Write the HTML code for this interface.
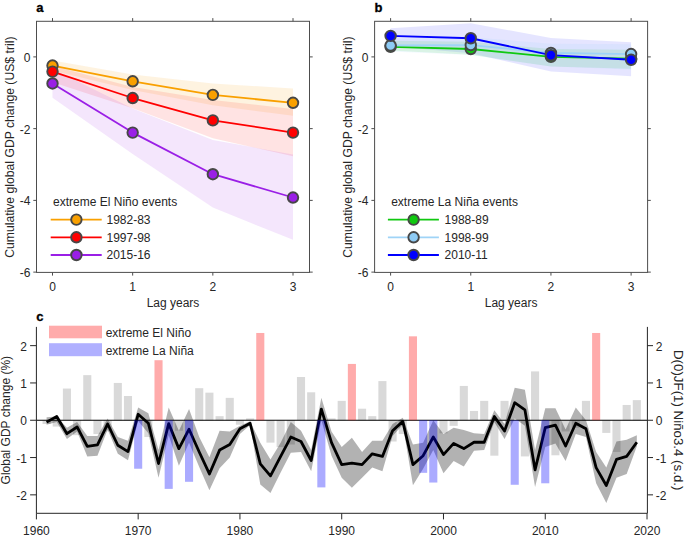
<!DOCTYPE html><html><head><meta charset="utf-8"><style>html,body{margin:0;padding:0;background:#fff;}svg{display:block;}text{font-family:"Liberation Sans", sans-serif;font-size:12px;fill:#262626;}</style></head><body>
<svg width="685" height="541" viewBox="0 0 685 541">
<rect width="685" height="541" fill="#fff"/>
<polygon points="52.5,60.49 132.67,74.48 212.84,83.44 293.01,88.47 293.01,115.73 212.84,105.32 132.67,89.9 52.5,70.53" fill="#f9a000" fill-opacity="0.12" stroke="none"/>
<polygon points="52.5,65.87 132.67,87.03 212.84,99.94 293.01,108.91 293.01,156.26 212.84,138.32 132.67,108.19 52.5,82.37" fill="#ff0000" fill-opacity="0.11" stroke="none"/>
<polygon points="52.5,69.1 132.67,108.55 212.84,140.12 293.01,154.47 293.01,239.84 212.84,207.55 132.67,154.11 52.5,97.79" fill="#9a1fe6" fill-opacity="0.11" stroke="none"/>
<polyline points="52.5,65.51 132.67,81.29 212.84,94.92 293.01,102.81" fill="none" stroke="#f9a000" stroke-width="1.8" stroke-linejoin="round"/>
<polyline points="52.5,71.61 132.67,98.01 212.84,120.39 293.01,132.59" fill="none" stroke="#ff0000" stroke-width="1.8" stroke-linejoin="round"/>
<polyline points="52.5,83.44 132.67,132.59 212.84,174.19 293.01,197.51" fill="none" stroke="#9a1fe6" stroke-width="1.8" stroke-linejoin="round"/>
<circle cx="52.5" cy="65.51" r="5.25" fill="#f9a000" stroke="#474747" stroke-width="1.9"/>
<circle cx="132.67" cy="81.29" r="5.25" fill="#f9a000" stroke="#474747" stroke-width="1.9"/>
<circle cx="212.84" cy="94.92" r="5.25" fill="#f9a000" stroke="#474747" stroke-width="1.9"/>
<circle cx="293.01" cy="102.81" r="5.25" fill="#f9a000" stroke="#474747" stroke-width="1.9"/>
<circle cx="52.5" cy="71.61" r="5.25" fill="#ff0000" stroke="#474747" stroke-width="1.9"/>
<circle cx="132.67" cy="98.01" r="5.25" fill="#ff0000" stroke="#474747" stroke-width="1.9"/>
<circle cx="212.84" cy="120.39" r="5.25" fill="#ff0000" stroke="#474747" stroke-width="1.9"/>
<circle cx="293.01" cy="132.59" r="5.25" fill="#ff0000" stroke="#474747" stroke-width="1.9"/>
<circle cx="52.5" cy="83.44" r="5.25" fill="#9a1fe6" stroke="#474747" stroke-width="1.9"/>
<circle cx="132.67" cy="132.59" r="5.25" fill="#9a1fe6" stroke="#474747" stroke-width="1.9"/>
<circle cx="212.84" cy="174.19" r="5.25" fill="#9a1fe6" stroke="#474747" stroke-width="1.9"/>
<circle cx="293.01" cy="197.51" r="5.25" fill="#9a1fe6" stroke="#474747" stroke-width="1.9"/>
<rect x="36.5" y="21.3" width="273" height="251.1" fill="none" stroke="#4d4d4d" stroke-width="1"/>
<path d="M52.5,272.4v3.2M52.5,21.3v-3.2M132.67,272.4v3.2M132.67,21.3v-3.2M212.84,272.4v3.2M212.84,21.3v-3.2M293.01,272.4v3.2M293.01,21.3v-3.2M36.5,56.9h-3.2M309.5,56.9h3.2M36.5,128.64h-3.2M309.5,128.64h3.2M36.5,200.38h-3.2M309.5,200.38h3.2M36.5,272.12h-3.2M309.5,272.12h3.2" stroke="#4d4d4d" stroke-width="1" fill="none"/>
<text x="52.5" y="291.2" text-anchor="middle">0</text>
<text x="132.67" y="291.2" text-anchor="middle">1</text>
<text x="212.84" y="291.2" text-anchor="middle">2</text>
<text x="293.01" y="291.2" text-anchor="middle">3</text>
<text x="30.4" y="61.9" text-anchor="end">0</text>
<text x="30.4" y="133.64" text-anchor="end">-2</text>
<text x="30.4" y="205.38" text-anchor="end">-4</text>
<text x="30.4" y="277.12" text-anchor="end">-6</text>
<text x="173" y="307.2" text-anchor="middle">Lag years</text>
<text transform="translate(13.6,147.2) rotate(-90)" text-anchor="middle" style="font-size:12.2px">Cumulative global GDP change (US$ tril)</text>
<text x="36.3" y="11.8" style="font-weight:bold;font-size:13px;fill:#000;stroke:#000;stroke-width:0.3px">a</text>
<text x="53.1" y="205.8">extreme El Niño events</text>
<line x1="50.7" x2="101.7" y1="219.6" y2="219.6" stroke="#f9a000" stroke-width="1.8"/>
<circle cx="76.4" cy="219.6" r="5.25" fill="#f9a000" stroke="#474747" stroke-width="1.9"/>
<text x="106.5" y="223.9">1982-83</text>
<line x1="50.7" x2="101.7" y1="237.3" y2="237.3" stroke="#ff0000" stroke-width="1.8"/>
<circle cx="76.4" cy="237.3" r="5.25" fill="#ff0000" stroke="#474747" stroke-width="1.9"/>
<text x="106.5" y="241.6">1997-98</text>
<line x1="50.7" x2="101.7" y1="255" y2="255" stroke="#9a1fe6" stroke-width="1.8"/>
<circle cx="76.4" cy="255" r="5.25" fill="#9a1fe6" stroke="#474747" stroke-width="1.9"/>
<text x="106.5" y="259.3">2015-16</text>
<polygon points="390.6,28.2 470.77,23.18 550.94,37.89 631.11,42.19 631.11,76.27 550.94,71.61 470.77,53.31 390.6,46.14" fill="#0000ff" fill-opacity="0.1" stroke="none"/>
<polygon points="390.6,38.97 470.77,37.17 550.94,43.63 631.11,44.35 631.11,69.45 550.94,66.58 470.77,55.11 390.6,51.52" fill="#8ecbf5" fill-opacity="0.12" stroke="none"/>
<polygon points="390.6,40.76 470.77,41.83 550.94,49.01 631.11,49.73 631.11,68.74 550.94,66.58 470.77,54.75 390.6,50.44" fill="#10c810" fill-opacity="0.1" stroke="none"/>
<polyline points="390.6,46.86 470.77,49.01 550.94,56.9 631.11,58.69" fill="none" stroke="#10c810" stroke-width="1.8" stroke-linejoin="round"/>
<polyline points="390.6,45.42 470.77,45.06 550.94,52.95 631.11,54.03" fill="none" stroke="#9fd4f7" stroke-width="1.8" stroke-linejoin="round"/>
<polyline points="390.6,35.92 470.77,38.25 550.94,55.11 631.11,59.77" fill="none" stroke="#0000ff" stroke-width="1.8" stroke-linejoin="round"/>
<circle cx="390.6" cy="46.86" r="5.25" fill="#10c810" stroke="#474747" stroke-width="1.9"/>
<circle cx="470.77" cy="49.01" r="5.25" fill="#10c810" stroke="#474747" stroke-width="1.9"/>
<circle cx="550.94" cy="56.9" r="5.25" fill="#10c810" stroke="#474747" stroke-width="1.9"/>
<circle cx="631.11" cy="58.69" r="5.25" fill="#10c810" stroke="#474747" stroke-width="1.9"/>
<circle cx="390.6" cy="45.42" r="5.25" fill="#8ecbf5" stroke="#474747" stroke-width="1.9"/>
<circle cx="470.77" cy="45.06" r="5.25" fill="#8ecbf5" stroke="#474747" stroke-width="1.9"/>
<circle cx="550.94" cy="52.95" r="5.25" fill="#8ecbf5" stroke="#474747" stroke-width="1.9"/>
<circle cx="631.11" cy="54.03" r="5.25" fill="#8ecbf5" stroke="#474747" stroke-width="1.9"/>
<circle cx="390.6" cy="35.92" r="5.25" fill="#0000ff" stroke="#474747" stroke-width="1.9"/>
<circle cx="470.77" cy="38.25" r="5.25" fill="#0000ff" stroke="#474747" stroke-width="1.9"/>
<circle cx="550.94" cy="55.11" r="5.25" fill="#0000ff" stroke="#474747" stroke-width="1.9"/>
<circle cx="631.11" cy="59.77" r="5.25" fill="#0000ff" stroke="#474747" stroke-width="1.9"/>
<rect x="374.6" y="21.3" width="273" height="251.1" fill="none" stroke="#4d4d4d" stroke-width="1"/>
<path d="M390.6,272.4v3.2M390.6,21.3v-3.2M470.77,272.4v3.2M470.77,21.3v-3.2M550.94,272.4v3.2M550.94,21.3v-3.2M631.11,272.4v3.2M631.11,21.3v-3.2M374.6,56.9h-3.2M647.6,56.9h3.2M374.6,128.64h-3.2M647.6,128.64h3.2M374.6,200.38h-3.2M647.6,200.38h3.2M374.6,272.12h-3.2M647.6,272.12h3.2" stroke="#4d4d4d" stroke-width="1" fill="none"/>
<text x="390.6" y="291.2" text-anchor="middle">0</text>
<text x="470.77" y="291.2" text-anchor="middle">1</text>
<text x="550.94" y="291.2" text-anchor="middle">2</text>
<text x="631.11" y="291.2" text-anchor="middle">3</text>
<text x="368.5" y="61.9" text-anchor="end">0</text>
<text x="368.5" y="133.64" text-anchor="end">-2</text>
<text x="368.5" y="205.38" text-anchor="end">-4</text>
<text x="368.5" y="277.12" text-anchor="end">-6</text>
<text x="511.1" y="307.2" text-anchor="middle">Lag years</text>
<text transform="translate(351.7,147.2) rotate(-90)" text-anchor="middle" style="font-size:12.2px">Cumulative global GDP change (US$ tril)</text>
<text x="374.4" y="11.8" style="font-weight:bold;font-size:13px;fill:#000;stroke:#000;stroke-width:0.3px">b</text>
<text x="391.2" y="205.8">extreme La Niña events</text>
<line x1="387.9" x2="438.9" y1="219.6" y2="219.6" stroke="#10c810" stroke-width="1.8"/>
<circle cx="413.6" cy="219.6" r="5.25" fill="#10c810" stroke="#474747" stroke-width="1.9"/>
<text x="444.6" y="223.9">1988-89</text>
<line x1="387.9" x2="438.9" y1="237.3" y2="237.3" stroke="#9fd4f7" stroke-width="1.8"/>
<circle cx="413.6" cy="237.3" r="5.25" fill="#8ecbf5" stroke="#474747" stroke-width="1.9"/>
<text x="444.6" y="241.6">1998-99</text>
<line x1="387.9" x2="438.9" y1="255" y2="255" stroke="#0000ff" stroke-width="1.8"/>
<circle cx="413.6" cy="255" r="5.25" fill="#0000ff" stroke="#474747" stroke-width="1.9"/>
<text x="444.6" y="259.3">2010-11</text>
<polygon points="46.58,417.27 56.75,416.52 66.93,427.71 77.11,422.12 87.28,435.92 97.46,435.92 107.64,418.38 117.82,437.04 127.99,440.76 138.17,407.57 148.35,413.16 158.52,450.09 168.7,407.57 178.88,430.69 189.06,409.06 199.23,437.04 209.41,457.18 219.59,430.69 229.76,431.44 239.94,425.85 250.12,421.37 260.29,442.63 270.47,459.42 280.65,442.63 290.82,422.12 301,430.69 311.18,450.09 321.36,397.87 331.53,431.44 341.71,447.11 351.89,437.78 362.06,451.95 372.24,440.76 382.42,440.76 392.59,423.98 402.77,417.64 412.95,444.5 423.13,442.63 433.3,420.25 443.48,434.05 453.66,427.71 463.83,429.95 474.01,433.31 484.19,434.05 494.36,410.18 504.54,423.98 514.72,387.8 524.9,389.66 535.07,450.09 545.25,408.31 555.43,408.31 565.6,429.57 575.78,407.57 585.96,420.25 596.13,451.95 606.31,467.62 616.49,441.51 626.67,439.65 636.84,435.17 636.84,446.36 626.67,473.96 616.49,477.69 606.31,503.06 596.13,483.29 585.96,437.04 575.78,434.05 565.6,460.91 555.43,443.38 545.25,447.11 535.07,487.02 524.9,425.85 514.72,418.38 504.54,438.9 494.36,422.12 484.19,450.09 474.01,450.84 463.83,466.5 453.66,460.91 443.48,473.22 433.3,450.09 423.13,468.74 412.95,485.15 402.77,424.73 392.59,435.92 382.42,471.35 372.24,467.62 362.06,477.69 351.89,487.76 341.71,477.69 331.53,455.69 321.36,420.25 311.18,471.35 301,451.95 290.82,452.7 280.65,472.47 270.47,492.99 260.29,484.41 250.12,425.1 239.94,434.05 229.76,457.55 219.59,468.37 209.41,490.37 199.23,466.88 189.06,442.63 178.88,465.76 168.7,435.17 158.52,477.69 148.35,433.31 138.17,421 127.99,460.16 117.82,453.82 107.64,429.57 97.46,455.69 87.28,456.43 77.11,431.44 66.93,438.9 56.75,422.12 46.58,424.73" fill="#000" fill-opacity="0.3" stroke="none"/>
<polyline points="46.58,422.12 56.75,416.52 66.93,433.68 77.11,426.96 87.28,446.36 97.46,444.87 107.64,423.98 117.82,445.24 127.99,451.58 138.17,414.28 148.35,423.23 158.52,463.52 168.7,423.61 178.88,448.6 189.06,429.2 199.23,451.95 209.41,473.96 219.59,450.09 229.76,444.5 239.94,428.83 250.12,423.23 260.29,463.89 270.47,475.83 280.65,456.43 290.82,437.04 301,441.51 311.18,460.53 321.36,409.06 331.53,442.63 341.71,464.64 351.89,463.14 362.06,464.64 372.24,453.82 382.42,456.43 392.59,430.69 402.77,421.37 412.95,464.64 423.13,455.69 433.3,437.04 443.48,454.57 453.66,443.38 463.83,448.6 474.01,442.26 484.19,442.26 494.36,416.52 504.54,431.07 514.72,402.72 524.9,409.81 535.07,469.86 545.25,427.71 555.43,425.1 565.6,445.99 575.78,423.23 585.96,428.83 596.13,467.62 606.31,485.52 616.49,459.42 626.67,456.43 636.84,442.26" fill="none" stroke="#000" stroke-width="2.8" stroke-linejoin="round"/>
<line x1="36.4" x2="647.4" y1="420.25" y2="420.25" stroke="#000" stroke-width="1"/>
<rect x="42.53" y="420.25" width="8.1" height="3.73" fill="#000000" fill-opacity="0.15"/>
<rect x="52.7" y="420.25" width="8.1" height="6.34" fill="#000000" fill-opacity="0.15"/>
<rect x="62.88" y="388.55" width="8.1" height="31.7" fill="#000000" fill-opacity="0.15"/>
<rect x="73.06" y="420.25" width="8.1" height="14.92" fill="#000000" fill-opacity="0.15"/>
<rect x="83.23" y="375.12" width="8.1" height="45.13" fill="#000000" fill-opacity="0.15"/>
<rect x="93.41" y="420.25" width="8.1" height="13.8" fill="#000000" fill-opacity="0.15"/>
<rect x="103.59" y="420.25" width="8.1" height="11.19" fill="#000000" fill-opacity="0.15"/>
<rect x="113.77" y="382.95" width="8.1" height="37.3" fill="#000000" fill-opacity="0.15"/>
<rect x="123.94" y="396" width="8.1" height="24.25" fill="#000000" fill-opacity="0.15"/>
<rect x="134.12" y="420.25" width="8.1" height="48.49" fill="#0000ff" fill-opacity="0.33"/>
<rect x="144.3" y="420.25" width="8.1" height="16.79" fill="#000000" fill-opacity="0.15"/>
<rect x="154.47" y="360.2" width="8.1" height="60.05" fill="#ff0000" fill-opacity="0.33"/>
<rect x="164.65" y="420.25" width="8.1" height="68.63" fill="#0000ff" fill-opacity="0.33"/>
<rect x="174.83" y="420.25" width="8.1" height="10.44" fill="#000000" fill-opacity="0.15"/>
<rect x="185" y="420.25" width="8.1" height="61.55" fill="#0000ff" fill-opacity="0.33"/>
<rect x="195.18" y="388.17" width="8.1" height="32.08" fill="#000000" fill-opacity="0.15"/>
<rect x="205.36" y="392.65" width="8.1" height="27.6" fill="#000000" fill-opacity="0.15"/>
<rect x="215.54" y="416.15" width="8.1" height="4.1" fill="#000000" fill-opacity="0.15"/>
<rect x="225.71" y="397.87" width="8.1" height="22.38" fill="#000000" fill-opacity="0.15"/>
<rect x="235.89" y="420.25" width="8.1" height="4.48" fill="#000000" fill-opacity="0.15"/>
<rect x="246.07" y="418.38" width="8.1" height="1.87" fill="#000000" fill-opacity="0.15"/>
<rect x="256.24" y="332.97" width="8.1" height="87.28" fill="#ff0000" fill-opacity="0.33"/>
<rect x="266.42" y="420.25" width="8.1" height="22.38" fill="#000000" fill-opacity="0.15"/>
<rect x="276.6" y="420.25" width="8.1" height="26.86" fill="#000000" fill-opacity="0.15"/>
<rect x="286.77" y="420.25" width="8.1" height="24.25" fill="#000000" fill-opacity="0.15"/>
<rect x="296.95" y="376.98" width="8.1" height="43.27" fill="#000000" fill-opacity="0.15"/>
<rect x="307.13" y="392.27" width="8.1" height="27.98" fill="#000000" fill-opacity="0.15"/>
<rect x="317.31" y="420.25" width="8.1" height="67.14" fill="#0000ff" fill-opacity="0.33"/>
<rect x="327.48" y="418.38" width="8.1" height="1.87" fill="#000000" fill-opacity="0.15"/>
<rect x="337.66" y="400.85" width="8.1" height="19.4" fill="#000000" fill-opacity="0.15"/>
<rect x="347.84" y="363.93" width="8.1" height="56.32" fill="#ff0000" fill-opacity="0.33"/>
<rect x="358.01" y="408.69" width="8.1" height="11.56" fill="#000000" fill-opacity="0.15"/>
<rect x="368.19" y="416.15" width="8.1" height="4.1" fill="#000000" fill-opacity="0.15"/>
<rect x="378.37" y="381.08" width="8.1" height="39.17" fill="#000000" fill-opacity="0.15"/>
<rect x="388.54" y="420.25" width="8.1" height="21.26" fill="#000000" fill-opacity="0.15"/>
<rect x="398.72" y="420.25" width="8.1" height="13.8" fill="#000000" fill-opacity="0.15"/>
<rect x="408.9" y="336.32" width="8.1" height="83.93" fill="#ff0000" fill-opacity="0.33"/>
<rect x="419.08" y="420.25" width="8.1" height="52.59" fill="#0000ff" fill-opacity="0.33"/>
<rect x="429.25" y="420.25" width="8.1" height="62.29" fill="#0000ff" fill-opacity="0.33"/>
<rect x="439.43" y="420.25" width="8.1" height="13.06" fill="#000000" fill-opacity="0.15"/>
<rect x="449.61" y="420.25" width="8.1" height="5.6" fill="#000000" fill-opacity="0.15"/>
<rect x="459.78" y="385.93" width="8.1" height="34.32" fill="#000000" fill-opacity="0.15"/>
<rect x="469.96" y="410.93" width="8.1" height="9.32" fill="#000000" fill-opacity="0.15"/>
<rect x="480.14" y="400.85" width="8.1" height="19.4" fill="#000000" fill-opacity="0.15"/>
<rect x="490.31" y="420.25" width="8.1" height="35.44" fill="#000000" fill-opacity="0.15"/>
<rect x="500.49" y="400.85" width="8.1" height="19.4" fill="#000000" fill-opacity="0.15"/>
<rect x="510.67" y="420.25" width="8.1" height="64.53" fill="#0000ff" fill-opacity="0.33"/>
<rect x="520.85" y="420.25" width="8.1" height="36.18" fill="#000000" fill-opacity="0.15"/>
<rect x="531.02" y="371.39" width="8.1" height="48.86" fill="#000000" fill-opacity="0.15"/>
<rect x="541.2" y="420.25" width="8.1" height="63.04" fill="#0000ff" fill-opacity="0.33"/>
<rect x="551.38" y="420.25" width="8.1" height="35.06" fill="#000000" fill-opacity="0.15"/>
<rect x="561.55" y="420.25" width="8.1" height="11.19" fill="#000000" fill-opacity="0.15"/>
<rect x="571.73" y="420.25" width="8.1" height="7.46" fill="#000000" fill-opacity="0.15"/>
<rect x="581.91" y="400.85" width="8.1" height="19.4" fill="#000000" fill-opacity="0.15"/>
<rect x="592.09" y="332.97" width="8.1" height="87.28" fill="#ff0000" fill-opacity="0.33"/>
<rect x="602.26" y="420.25" width="8.1" height="12.68" fill="#000000" fill-opacity="0.15"/>
<rect x="612.44" y="420.25" width="8.1" height="31.7" fill="#000000" fill-opacity="0.15"/>
<rect x="622.62" y="404.96" width="8.1" height="15.29" fill="#000000" fill-opacity="0.15"/>
<rect x="632.79" y="400.11" width="8.1" height="20.14" fill="#000000" fill-opacity="0.15"/>
<path d="M36.4,326.9V513.3H647.4V326.9" fill="none" stroke="#262626" stroke-width="1"/>
<path d="M36.4,345.65h-6.3M647.4,345.65h5.6M36.4,382.95h-6.3M647.4,382.95h5.6M36.4,420.25h-6.3M647.4,420.25h5.6M36.4,457.55h-6.3M647.4,457.55h5.6M36.4,494.85h-6.3M647.4,494.85h5.6M36.4,513.3v6.1M138.17,513.3v6.1M239.94,513.3v6.1M341.71,513.3v6.1M443.48,513.3v6.1M545.25,513.3v6.1M647.02,513.3v6.1" stroke="#262626" stroke-width="1" fill="none"/>
<text x="26.9" y="350.75" text-anchor="end">2</text>
<text x="655.7" y="350.65">2</text>
<text x="26.9" y="388.05" text-anchor="end">1</text>
<text x="655.7" y="387.95">1</text>
<text x="26.9" y="425.35" text-anchor="end">0</text>
<text x="655.7" y="425.25">0</text>
<text x="26.9" y="462.65" text-anchor="end">-1</text>
<text x="655.7" y="462.55">-1</text>
<text x="26.9" y="499.95" text-anchor="end">-2</text>
<text x="655.7" y="499.85">-2</text>
<text x="36.4" y="534.7" text-anchor="middle">1960</text>
<text x="138.17" y="534.7" text-anchor="middle">1970</text>
<text x="239.94" y="534.7" text-anchor="middle">1980</text>
<text x="341.71" y="534.7" text-anchor="middle">1990</text>
<text x="443.48" y="534.7" text-anchor="middle">2000</text>
<text x="545.25" y="534.7" text-anchor="middle">2010</text>
<text x="647.02" y="534.7" text-anchor="middle">2020</text>
<text transform="translate(10.3,420.2) rotate(-90)" text-anchor="middle">Global GDP change (%)</text>
<text transform="translate(673.6,420.2) rotate(90)" text-anchor="middle" style="font-size:13.3px">D(0)JF(1) Niño3.4 (s.d.)</text>
<text x="36.3" y="321.1" style="font-weight:bold;font-size:13px;fill:#000;stroke:#000;stroke-width:0.3px">c</text>
<rect x="49" y="325.7" width="53" height="12.6" fill="#ff0000" fill-opacity="0.33"/>
<rect x="49" y="343.2" width="53" height="13" fill="#0000ff" fill-opacity="0.31"/>
<text x="105.7" y="337.3">extreme El Niño</text>
<text x="105.7" y="354.9">extreme La Niña</text>
</svg></body></html>
